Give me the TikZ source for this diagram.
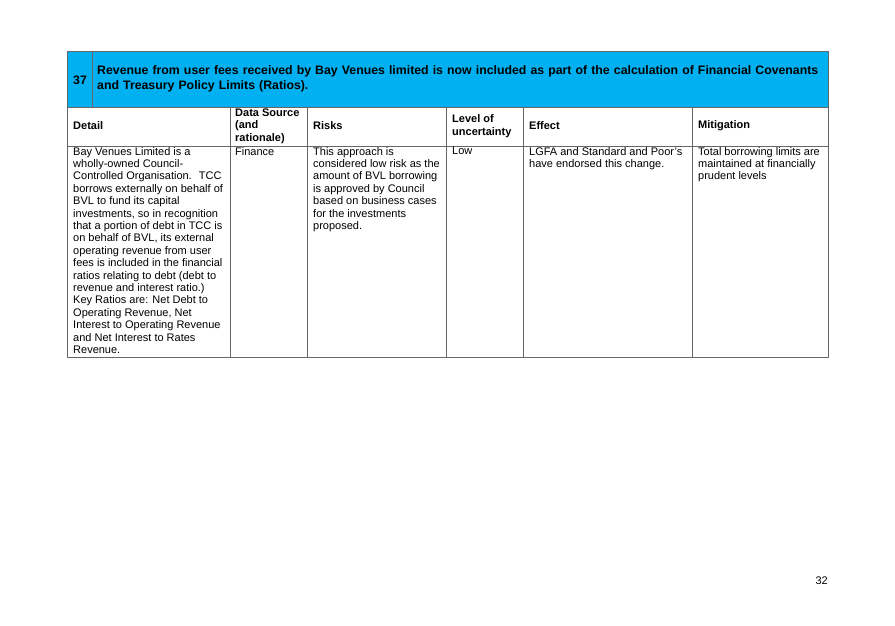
\documentclass[tikz,border=0pt]{standalone}
\usepackage{fontspec}
\setmainfont{Liberation Sans}
\usetikzlibrary{positioning}
\definecolor{hdrblue}{RGB}{0,176,240}
\tikzset{
  cell/.style={anchor=north west, inner sep=0pt, align=left, font=\fontsize{11}{12.4}\selectfont},
  head/.style={anchor=west, inner sep=0pt, align=left, font=\bfseries\fontsize{11}{12.4}\selectfont},
  rule/.style={draw=gray!80!black, line width=0.7pt}
}
\begin{document}
\begin{tikzpicture}[x=1pt,y=-1pt]
\useasboundingbox (0,0) rectangle (895,626);
% title band
\fill[hdrblue] (67,51) rectangle (828,107);
\draw[rule] (67,51) rectangle (828,357);
\draw[rule] (92,51) -- (92,107);
\draw[rule] (67,107) -- (828,107);
\draw[rule] (67,146) -- (828,146);
\foreach \x in {230,307,446,523,692} \draw[rule] (\x,107) -- (\x,357);
\node[head, font=\bfseries\fontsize{12.3}{15}\selectfont] (num) at (73,80) {37};
\node[head, font=\bfseries\fontsize{12.3}{15}\selectfont, text width=725pt] (title) at (97,79)
  {Revenue from user fees received by Bay Venues limited is now included as part of the calculation of Financial Covenants and Treasury Policy Limits (Ratios).};
% column heads
\node[head] (hdetail) at (73,126) {Detail};
\node[head] (hsource) at (235,126) {Data Source\\(and\\rationale)};
\node[head] (hrisks) at (313,126) {Risks};
\node[head] (hlevel) at (452,126) {Level of\\uncertainty};
\node[head] (heffect) at (529,126) {Effect};
\node[head] (hmitig) at (698,126) {Mitigation};
% body
\node[cell] (detail) at (73,147) {Bay Venues Limited is a\\wholly-owned Council-\\Controlled Organisation.~ TCC\\borrows externally on behalf of\\BVL to fund its capital\\investments, so in recognition\\that a portion of debt in TCC is\\on behalf of BVL, its external\\operating revenue from user\\fees is included in the financial\\ratios relating to debt (debt to\\revenue and interest ratio.)\\Key Ratios are: Net Debt to\\Operating Revenue, Net\\Interest to Operating Revenue\\and Net Interest to Rates\\Revenue.};
\node[cell] (source) at (235,147) {Finance};
\node[cell] (risks) at (313,147) {This approach is\\considered low risk as the\\amount of BVL borrowing\\is approved by Council\\based on business cases\\for the investments\\proposed.};
\node[cell] (level) at (452,147) {Low};
\node[cell] (effect) at (529,147) {LGFA and Standard and Poor's\\have endorsed this change.};
\node[cell] (mitig) at (698,147) {Total borrowing limits are\\maintained at financially\\prudent levels};
\node[cell, anchor=east] (page) at (828,581) {32};
\end{tikzpicture}
\end{document}
